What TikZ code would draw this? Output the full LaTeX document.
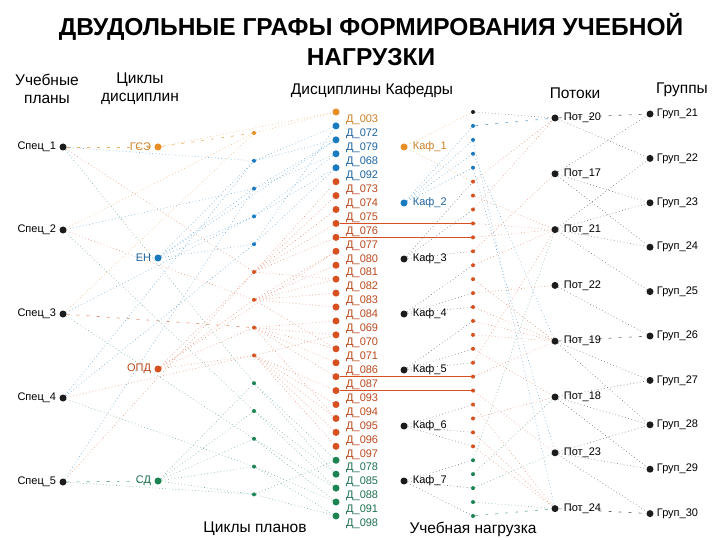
\documentclass[tikz,border=0pt]{standalone}
\usepackage{fontspec}
\setmainfont{Liberation Sans}
\usetikzlibrary{backgrounds}
\definecolor{cOrange}{RGB}{232,142,36}
\definecolor{cBlue}{RGB}{26,122,192}
\definecolor{cRed}{RGB}{214,80,32}
\definecolor{cGreen}{RGB}{28,132,82}
\definecolor{cDark}{RGB}{28,28,28}
\definecolor{tOrange}{RGB}{205,128,40}
\definecolor{tBlue}{RGB}{30,100,160}
\definecolor{tRed}{RGB}{185,72,30}
\definecolor{tGreen}{RGB}{30,112,80}
\begin{document}
\begin{tikzpicture}[x=1pt,y=-1pt,
  bigdot/.style={circle,fill=#1,inner sep=0pt,minimum size=7pt},
  smalldot/.style={circle,fill=#1,inner sep=0pt,minimum size=4pt},
  lbl/.style={font=\fontsize{11}{13}\selectfont,text=#1,inner sep=1pt},
  hdr/.style={font=\fontsize{15.5}{18}\selectfont,align=center},
  lnk/.style={#1!60,line width=0.6pt,dash pattern=on 0.7pt off 2.6pt},
  lnkdash/.style={#1!70,line width=0.6pt,dash pattern=on 3pt off 7pt},
  lnksolid/.style={cRed,line width=1pt}]
\useasboundingbox (0,0) rectangle (720,540);

% Title and headers
\node[font=\fontsize{24.5}{30}\selectfont\bfseries,align=center] (title) at (371,40) {ДВУДОЛЬНЫЕ ГРАФЫ ФОРМИРОВАНИЯ УЧЕБНОЙ\\НАГРУЗКИ};
\node[hdr] (hplans) at (47,89) {Учебные\\планы};
\node[hdr] (hcycles) at (140,89) {Циклы\\дисциплин};
\node[hdr] (hdisc) at (372,90) {Дисциплины Кафедры};
\node[hdr] (hstreams) at (575,93) {Потоки};
\node[hdr] (hgroups) at (682,90) {Группы};
\node[hdr] (hpcycles) at (255,529) {Циклы планов};
\node[hdr] (hload) at (473,529) {Учебная нагрузка};

% Curricula
\foreach \i/\y in {1/147,2/230,3/314,4/398,5/482}
  \node[bigdot=cDark,label={[lbl=black,label distance=2pt]left:Спец\_\i}] (s\i) at (63,\y) {};

% Cycles of disciplines
\node[bigdot=cOrange,label={[lbl=tOrange,label distance=2pt]left:ГСЭ}] (gse) at (158,147) {};
\node[bigdot=cBlue,label={[lbl=tBlue,label distance=2pt]left:ЕН}] (en) at (158,258) {};
\node[bigdot=cRed,label={[lbl=tRed,label distance=2pt]left:ОПД}] (opd) at (158,369) {};
\node[bigdot=cGreen,label={[lbl=tGreen,label distance=2pt]left:СД}] (sd) at (158,481) {};

% Cycles of plans
\foreach \c [count=\i] in {cOrange,cBlue,cBlue,cBlue,cBlue,cRed,cRed,cRed,cRed,cGreen,cGreen,cGreen,cGreen,cGreen}
  \node[smalldot=\c] (p\i) at (254,{133+27.8*(\i-1)}) {};

% Disciplines
\foreach \n/\c/\t [count=\i from 0] in {003/cOrange/tOrange,072/cBlue/tBlue,079/cBlue/tBlue,068/cBlue/tBlue,092/cBlue/tBlue,
    073/cRed/tRed,074/cRed/tRed,075/cRed/tRed,076/cRed/tRed,077/cRed/tRed,080/cRed/tRed,081/cRed/tRed,082/cRed/tRed,
    083/cRed/tRed,084/cRed/tRed,069/cRed/tRed,070/cRed/tRed,071/cRed/tRed,086/cRed/tRed,087/cRed/tRed,093/cRed/tRed,
    094/cRed/tRed,095/cRed/tRed,096/cRed/tRed,097/cRed/tRed,078/cGreen/tGreen,085/cGreen/tGreen,088/cGreen/tGreen,
    091/cGreen/tGreen,098/cGreen/tGreen}{
  \node[bigdot=\c] (d\i) at (336,{112+13.93*\i}) {};
  \node[lbl=\t,anchor=west] (dl\i) at (345,{120+13.93*\i}) {Д\_\n};
}

% Departments
\foreach \i/\y/\c/\t in {1/147/cOrange/tOrange,2/203/cBlue/tBlue,3/259/cDark/black,4/314/cDark/black,
    5/370/cDark/black,6/426/cDark/black,7/481/cDark/black}
  \node[bigdot=\c,label={[lbl=\t,label distance=4pt]right:Каф\_\i}] (k\i) at (404,\y) {};

% Teaching load
\foreach \c [count=\i from 0] in {cDark,cBlue,cBlue,cBlue,cBlue,cRed,cRed,cRed,cRed,cRed,cRed,cRed,cRed,cRed,cRed,
    cRed,cRed,cRed,cRed,cRed,cRed,cRed,cRed,cRed,cRed,cGreen,cGreen,cGreen,cGreen,cGreen}
  \node[smalldot=\c] (l\i) at (473,{112+13.93*\i}) {};

% Streams
\foreach \n [count=\i from 0] in {20,17,21,22,19,18,23,24}
  \node[bigdot=cDark,label={[lbl=black,label distance=4pt]right:Пот\_\n}] (f\n) at (555,{118+55.8*\i}) {};

% Groups
\foreach \n [count=\i from 0] in {21,...,30}
  \node[bigdot=cDark,label={[lbl=black,label distance=2pt]right:Груп\_\n}] (g\n) at (650,{114+44.4*\i}) {};

\begin{pgfonlayer}{background}
% curricula -> cycles
\draw[lnkdash=cOrange] (s1) -- (gse);
\draw[lnkdash=cRed] (s3) -- (p8);
\draw[lnkdash=cGreen] (s5) -- (sd);
\foreach \a/\b/\c in {s1/p2/cBlue,s1/p6/cRed,s1/p10/cGreen,s2/p1/cOrange,s2/p3/cBlue,s2/p7/cRed,s2/p11/cGreen,
    s3/p4/cBlue,s3/p12/cGreen,s3/p1/cOrange,s4/p5/cBlue,s4/p9/cRed,s4/p13/cGreen,s4/p2/cBlue,
    s5/p14/cGreen,s5/p6/cRed,s5/p3/cBlue}
  \draw[lnk=\c] (\a) -- (\b);

% cycles -> cycles of plans
\draw[lnkdash=cOrange] (gse) -- (p1);
\foreach \a/\b/\c in {en/p2/cBlue,en/p3/cBlue,en/p4/cBlue,en/p5/cBlue,opd/p6/cRed,opd/p7/cRed,opd/p8/cRed,opd/p9/cRed,
    sd/p10/cGreen,sd/p11/cGreen,sd/p12/cGreen,sd/p13/cGreen,sd/p14/cGreen,gse/d0/cOrange,en/d2/cBlue,opd/d10/cRed}
  \draw[lnk=\c] (\a) -- (\b);

% cycles of plans -> disciplines
\draw[lnk=cOrange] (p1) -- (d0);
\foreach \a/\b in {2/1,2/2,3/2,3/3,4/3,4/4,5/1,5/4}
  \draw[lnk=cBlue] (p\a) -- (d\b);
\foreach \a/\b in {6/5,6/6,6/7,6/8,6/9,6/12,7/10,7/11,7/12,7/13,7/14,7/17,8/15,8/16,8/17,8/18,8/19,8/22,
    9/20,9/21,9/22,9/23,9/24,9/16}
  \draw[lnk=cRed] (p\a) -- (d\b);
\foreach \a/\b in {10/25,10/26,11/26,11/27,12/27,12/28,13/28,13/29,14/29,14/25}
  \draw[lnk=cGreen] (p\a) -- (d\b);

% disciplines -> load
\foreach \i in {8,9,19,20}
  \draw[lnksolid] (d\i) -- (l\i);

% departments -> load
\foreach \a/\b/\c in {k1/l0/cOrange,k1/l5/cOrange,k2/l1/cBlue,k2/l2/cBlue,k2/l3/cBlue,k2/l4/cBlue,
    k3/l5/cDark,k3/l7/cDark,k3/l10/cDark,k4/l11/cDark,k4/l13/cDark,k4/l14/cDark,k5/l15/cDark,k5/l17/cDark,
    k5/l18/cDark,k6/l21/cDark,k6/l23/cDark,k6/l24/cDark,k7/l25/cDark,k7/l27/cDark,k7/l29/cDark}
  \draw[lnk=\c] (\a) -- (\b);

% load -> streams
\draw[lnkdash=cBlue] (l1) -- (f20);
\draw[lnkdash=cGreen] (l29) -- (f24);
\foreach \a/\b/\c in {0/20/cDark,2/24/cBlue,3/19/cBlue,4/23/cBlue,5/20/cRed,6/21/cRed,7/20/cRed,8/21/cRed,
    9/21/cRed,10/17/cRed,11/21/cRed,12/19/cRed,13/22/cRed,14/19/cRed,15/19/cRed,16/19/cRed,17/18/cRed,
    18/21/cRed,19/19/cRed,20/23/cRed,21/24/cRed,22/18/cRed,23/24/cRed,24/24/cRed,25/21/cGreen,
    26/18/cGreen,27/23/cGreen,28/24/cGreen}
  \draw[lnk=\c] (l\a) -- (f\b);

% streams -> groups
\draw[lnkdash=cDark] (f20) -- (g21);
\draw[lnkdash=cDark] (f19) -- (g26);
\draw[lnkdash=cDark] (f24) -- (g30);
\foreach \a/\b in {20/22,17/21,17/23,17/24,21/22,21/23,21/24,21/25,22/26,19/27,19/28,
    18/27,18/28,18/29,23/28,23/29,23/30}
  \draw[lnk=cDark] (f\a) -- (g\b);
\end{pgfonlayer}
\end{tikzpicture}
\end{document}
